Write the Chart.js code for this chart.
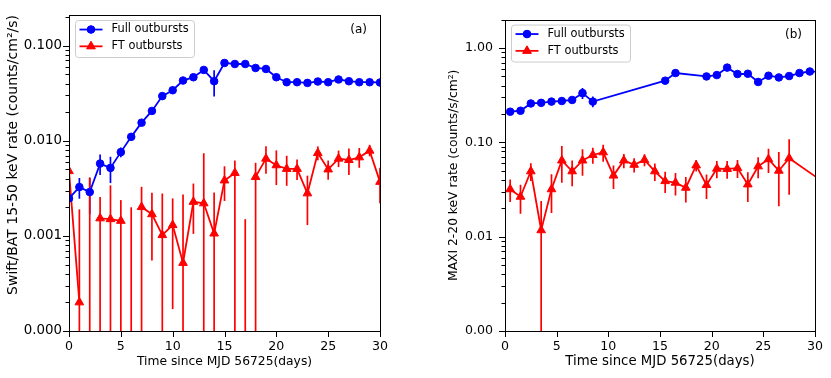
<!DOCTYPE html>
<html>
<head>
<meta charset="utf-8">
<script src="https://cdn.jsdelivr.net/npm/chart.js@4.4.1/dist/chart.umd.min.js"></script>
<style>
  html, body { margin: 0; padding: 0; background: #fff; }
  #wrap { position: relative; width: 831px; height: 378px; }
  canvas { position: absolute; top: 0; }
  #chartA { left: 0; }
  #chartB { left: 415px; }
</style>
</head>
<body>
<div id="wrap">
  <canvas id="chartA" width="415" height="378"></canvas>
  <canvas id="chartB" width="416" height="378"></canvas>
</div>
<script>
const FONT = "'DejaVu Sans', sans-serif";
const BLUE = "#0000ff";
const RED = "#ff0000";

// (a) Swift/BAT 15-50 keV, daily bins
const batDays = [0, 1, 2, 3, 4, 5, 6, 7, 8, 9, 10, 11, 12, 13, 14, 15, 16, 17, 18, 19, 20, 21, 22, 23, 24, 25, 26, 27, 28, 29, 30];
const batFull = [0.00248, 0.00326, 0.00289, 0.00576, 0.00519, 0.0076, 0.011, 0.0155, 0.0206, 0.0295, 0.034, 0.043, 0.0466, 0.0556, 0.0423, 0.0658, 0.0642, 0.0642, 0.0583, 0.0569, 0.0466, 0.0413, 0.0413, 0.0406, 0.042, 0.0413, 0.0441, 0.0423, 0.0413, 0.0413, 0.041];
const batFullErr = [0.0007, 0.0008, 0.0012, 0.0014, 0.0016, 0.0009, 0.0008, 0.0009, 0.001, 0.0012, 0.0013, 0.0015, 0.0016, 0.0025, 0.013, 0.004, 0.003, 0.003, 0.0025, 0.0025, 0.002, 0.002, 0.002, 0.002, 0.002, 0.002, 0.002, 0.002, 0.002, 0.002, 0.002];
// negative rates are not drawn on the log axis, only their error bars
const batFT = [0.0048, 0.0002, -0.0004, 0.00153, 0.0015, 0.00144, -0.0004, 0.00201, 0.00169, 0.00102, 0.0013, 0.00052, 0.00228, 0.0022, 0.00106, 0.00383, 0.00459, -0.0004, 0.00417, 0.00649, 0.00553, 0.00506, 0.00506, 0.0028, 0.00743, 0.005, 0.00649, 0.00628, 0.0067, 0.00787, 0.0037];
const batFTErrLo = [0.0025, 0.0005, 0.0045, 0.002, 0.0019, 0.0016, 0.0024, 0.0021, 0.00114, 0.0018, 0.00113, 0.0022, 0.00123, 0.0052, 0.0018, 0.0015, 0.0047, 0.0019, 0.0045, 0.002, 0.0021, 0.0017, 0.0012, 0.0015, 0.0012, 0.0011, 0.0012, 0.0019, 0.0015, 0.001, 0.0015];
const batFTErrHi = [0.0021, 0.0017, 0.0045, 0.00103, 0.0019, 0.00094, 0.0024, 0.00127, 0.00115, 0.00177, 0.00118, 0.0022, 0.00127, 0.0052, 0.0018, 0.00156, 0.0016, 0.0019, 0.0017, 0.00225, 0.0024, 0.0019, 0.0013, 0.0015, 0.0013, 0.0012, 0.0014, 0.002, 0.0017, 0.0012, 0.0015];
const batTicks = [0.0001, 0.001, 0.01, 0.1];

// (b) MAXI 2-20 keV
const maxiFullDays = [0.5, 1.5, 2.5, 3.5, 4.5, 5.5, 6.5, 7.5, 8.5, 15.5, 16.5, 19.5, 20.5, 21.5, 22.5, 23.5, 24.5, 25.5, 26.5, 27.5, 28.5, 29.5, 30.5];
const maxiFull = [0.211, 0.216, 0.258, 0.262, 0.27, 0.274, 0.281, 0.332, 0.27, 0.45, 0.542, 0.499, 0.516, 0.619, 0.529, 0.533, 0.436, 0.508, 0.487, 0.504, 0.542, 0.563, 0.56];
const maxiFullErr = [0.012, 0.012, 0.014, 0.014, 0.015, 0.015, 0.016, 0.045, 0.035, 0.02, 0.02, 0.02, 0.02, 0.03, 0.02, 0.02, 0.02, 0.02, 0.02, 0.02, 0.02, 0.02, 0.02];
const maxiFTDays = [0.5, 1.5, 2.5, 3.5, 4.5, 5.5, 6.5, 7.5, 8.5, 9.5, 10.5, 11.5, 12.5, 13.5, 14.5, 15.5, 16.5, 17.5, 18.5, 19.5, 20.5, 21.5, 22.5, 23.5, 24.5, 25.5, 26.5, 27.5, 30.5];
const maxiFT = [0.0318, 0.0265, 0.0493, 0.0117, 0.0318, 0.0642, 0.0493, 0.0642, 0.0734, 0.0783, 0.0444, 0.0642, 0.0578, 0.0651, 0.0493, 0.0388, 0.0373, 0.033, 0.0569, 0.0353, 0.0525, 0.0522, 0.0533, 0.0358, 0.0556, 0.0662, 0.05, 0.0678, 0.04];
const maxiFTErr = [0.0085, 0.009, 0.0105, 0.0122, 0.014, 0.027, 0.015, 0.02, 0.014, 0.016, 0.0125, 0.011, 0.01, 0.0095, 0.0103, 0.0098, 0.01, 0.01, 0.008, 0.0103, 0.011, 0.011, 0.0115, 0.0125, 0.014, 0.019, 0.029, 0.04, 0.01];
const maxiTicks = [0.001, 0.01, 0.1, 1];

const xTicks = [0, 5, 10, 15, 20, 25, 30];

function points(xs, ys) {
  return xs.map((x, i) => ({ x, y: ys[i] }));
}

function series(label, color, style, xs, ys, errLo, errHi) {
  return {
    label,
    data: points(xs, ys),
    errLo,
    errHi,
    borderColor: color,
    backgroundColor: color,
    borderWidth: 1.8,
    pointStyle: style,
    pointRadius: style === "circle" ? 3.8 : 5,
    pointBorderWidth: 1,
    pointBackgroundColor: color,
    pointBorderColor: color,
    tension: 0,
    clip: 0,
  };
}

// vertical error bars, drawn under the lines and markers
const errorBars = {
  id: "errorBars",
  beforeDatasetsDraw(chart) {
    const { ctx, chartArea: a, scales: { x, y } } = chart;
    ctx.save();
    ctx.beginPath();
    ctx.rect(a.left, a.top, a.width, a.height);
    ctx.clip();
    chart.data.datasets.forEach((ds) => {
      ctx.strokeStyle = ds.borderColor;
      ctx.lineWidth = 1.7;
      ds.data.forEach((p, i) => {
        const lo = p.y - ds.errLo[i];
        const hi = p.y + ds.errHi[i];
        if (hi <= 0) return;
        const px = x.getPixelForValue(p.x);
        // a lower edge at or below zero runs off the bottom of the log axis
        const yBot = lo > 0 ? y.getPixelForValue(lo) : a.bottom + 2;
        const yTop = y.getPixelForValue(hi);
        ctx.beginPath();
        ctx.moveTo(px, yBot);
        ctx.lineTo(px, yTop);
        ctx.stroke();
      });
    });
    ctx.restore();
  },
};

function legendHandle(ctx, ds, x0, x1, yc) {
  ctx.strokeStyle = ds.borderColor;
  ctx.lineWidth = 1.8;
  ctx.beginPath();
  ctx.moveTo(x0, yc);
  ctx.lineTo(x1, yc);
  ctx.stroke();
  ctx.fillStyle = ds.borderColor;
  ctx.lineWidth = 1;
  Chart.helpers.drawPoint(ctx, {
    pointStyle: ds.pointStyle,
    radius: ds.pointRadius,
    borderWidth: 1,
    rotation: 0,
  }, (x0 + x1) / 2, yc);
  ctx.fill();
}

// matplotlib-style frame: box, outward ticks (minor ticks on the log axis), legend, panel tag
const axesDecor = {
  id: "axesDecor",
  afterDraw(chart, args, opts) {
    const { ctx, chartArea: a, scales: { x, y } } = chart;
    ctx.save();
    ctx.strokeStyle = "#000";
    ctx.lineWidth = 1;
    ctx.strokeRect(Math.round(a.left) + 0.5, Math.round(a.top) + 0.5, Math.round(a.width), Math.round(a.height));

    ctx.beginPath();
    xTicks.forEach((v) => {
      const px = Math.round(x.getPixelForValue(v)) + 0.5;
      ctx.moveTo(px, a.bottom);
      ctx.lineTo(px, a.bottom + 6);
    });
    opts.yTicks.forEach((v) => {
      const py = Math.round(y.getPixelForValue(v)) + 0.5;
      ctx.moveTo(a.left - 6, py);
      ctx.lineTo(a.left, py);
      for (let m = 2; m <= 9; m++) {
        const mv = v * m;
        if (mv > y.max) break;
        const my = Math.round(y.getPixelForValue(mv)) + 0.5;
        ctx.moveTo(a.left - 3.5, my);
        ctx.lineTo(a.left, my);
      }
    });
    ctx.stroke();

    // legend
    const bx = a.left + 6.5, by = a.top + 5.5, bw = 119, bh = 37;
    ctx.fillStyle = "rgba(255,255,255,0.85)";
    ctx.strokeStyle = "#cccccc";
    ctx.beginPath();
    ctx.roundRect(bx, by, bw, bh, 3);
    ctx.fill();
    ctx.stroke();
    ctx.font = "11.4px " + FONT;
    ctx.textBaseline = "middle";
    chart.data.datasets.forEach((ds, i) => {
      const yc = a.top + 14.5 + i * 16.8;
      legendHandle(ctx, ds, bx + 4, bx + 27, yc);
      ctx.fillStyle = "#000";
      ctx.textAlign = "left";
      ctx.fillText(ds.label, bx + 36, yc);
    });

    ctx.font = "12px " + FONT;
    ctx.textAlign = "right";
    ctx.fillStyle = "#000";
    ctx.fillText(opts.tag, a.right - 13, a.top + 15);
    ctx.restore();
  },
};

function buildChart(id, cfg) {
  return new Chart(document.getElementById(id), {
    type: "line",
    data: { datasets: cfg.datasets },
    options: {
      responsive: false,
      animation: false,
      devicePixelRatio: 1,
      layout: { padding: { left: 0, top: 14, right: cfg.padRight, bottom: 0 } },
      plugins: {
        legend: { display: false },
        tooltip: { enabled: false },
        axesDecor: { tag: cfg.tag, yTicks: cfg.yTicks },
      },
      scales: {
        x: {
          type: "linear",
          min: 0,
          max: 30,
          grid: { display: false, drawTicks: false },
          border: { display: false },
          afterBuildTicks: (s) => { s.ticks = xTicks.map((v) => ({ value: v })); },
          ticks: { padding: 8, maxRotation: 0, font: { size: 12.6 }, color: "#000" },
          title: {
            display: true,
            text: "Time since MJD 56725(days)",
            color: "#000",
            font: { size: cfg.xTitleSize },
            padding: { top: 0, bottom: cfg.xTitlePad },
          },
          afterFit: (s) => { s.height = 47; },
        },
        y: {
          type: "logarithmic",
          min: cfg.yMin,
          max: cfg.yMax,
          grid: { display: false, drawTicks: false },
          border: { display: false },
          afterBuildTicks: (s) => { s.ticks = cfg.yTicks.map((v) => ({ value: v, major: true })); },
          ticks: {
            padding: cfg.tickPad,
            font: { size: cfg.yTickSize },
            color: "#000",
            callback: (v) => Number(v).toFixed(cfg.digits),
          },
          title: {
            display: true,
            text: cfg.yTitle,
            align: cfg.yTitleAlign,
            color: "#000",
            font: { size: cfg.yTitleSize },
            padding: { top: cfg.titlePad, bottom: 0 },
          },
          afterFit: (s) => { s.width = cfg.yWidth; },
        },
      },
    },
    plugins: [errorBars, axesDecor],
  });
}

Chart.defaults.font.family = FONT;

buildChart("chartA", {
  datasets: [
    series("Full outbursts", BLUE, "circle", batDays, batFull, batFullErr, batFullErr),
    series("FT outbursts", RED, "triangle", batDays, batFT, batFTErrLo, batFTErrHi),
  ],
  yMin: 0.0001,
  yMax: 0.21,
  yTicks: batTicks,
  digits: 3,
  yWidth: 69,
  padRight: 35,
  tickPad: 7,
  yTickSize: 13.4,
  titlePad: 5,
  yTitleSize: 14,
  yTitleAlign: "end",
  yTitle: "Swift/BAT 15-50 keV rate (counts/cm²/s)",
  xTitleSize: 12.3,
  xTitlePad: 8.5,
  tag: "(a)",
});

buildChart("chartB", {
  datasets: [
    series("Full outbursts", BLUE, "circle", maxiFullDays, maxiFull, maxiFullErr, maxiFullErr),
    series("FT outbursts", RED, "triangle", maxiFTDays, maxiFT, maxiFTErr, maxiFTErr),
  ],
  yMin: 0.001,
  yMax: 2.0,
  yTicks: maxiTicks,
  digits: 2,
  yWidth: 90,
  padRight: 16,
  tickPad: 12,
  yTickSize: 12.6,
  titlePad: 31,
  yTitleSize: 12.3,
  yTitleAlign: "center",
  yTitle: "MAXI 2-20 keV rate (counts/s/cm²)",
  xTitleSize: 13.3,
  xTitlePad: 8,
  tag: "(b)",
});
</script>
</body>
</html>
